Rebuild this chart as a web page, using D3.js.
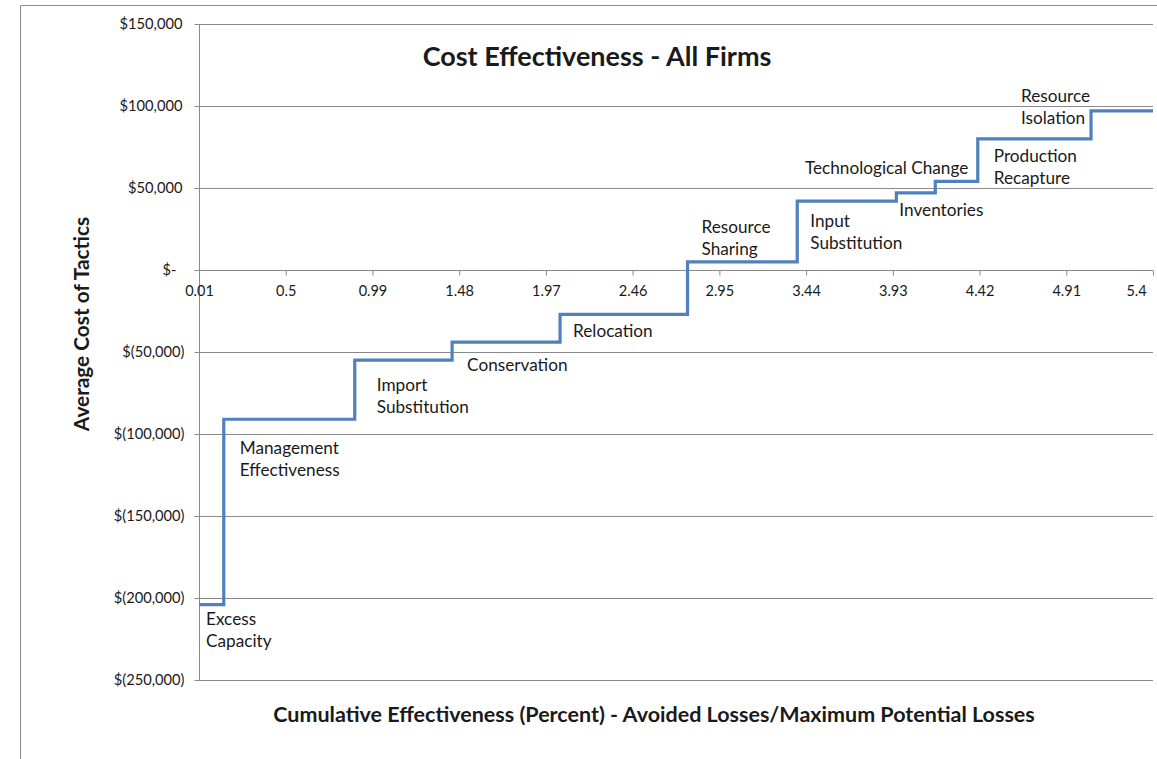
<!DOCTYPE html>
<html>
<head>
<meta charset="utf-8">
<script src="https://cdn.jsdelivr.net/npm/d3@7"></script>
<style>
  html, body { margin: 0; padding: 0; background: #fff; }
  svg { display: block; }
  text { font-family: Lato, "Open Sans", "Noto Sans", sans-serif; fill: #1a1a1a; }
</style>
</head>
<body>
<svg id="chart" width="1157" height="759"></svg>
<script>
// Tactics in order of increasing average cost
const tactics = [
  "Excess Capacity",
  "Management Effectiveness",
  "Import Substitution",
  "Conservation",
  "Relocation",
  "Resource Sharing",
  "Input Substitution",
  "Inventories",
  "Technological Change",
  "Production Recapture",
  "Resource Isolation"
];
// Cumulative effectiveness (%) at which each tactic's step begins
const stepStart = [0.01, 0.15, 0.89, 1.44, 2.05, 2.77, 3.39, 3.95, 4.17, 4.41, 5.05];
const effectivenessEnd = 5.4;
// Average cost of each tactic ($)
const avgCost = [-204000, -91000, -55000, -44000, -27000, 5000, 42000, 47000, 54000, 80000, 97000];

// Axis ticks
const xTicks = [0.01, 0.5, 0.99, 1.48, 1.97, 2.46, 2.95, 3.44, 3.93, 4.42, 4.91, 5.4];
const yTicks = [150000, 100000, 50000, 0, -50000, -100000, -150000, -200000, -250000];

// Label placement relative to the start of each step: [dx, dy, anchor]
const labelLayout = [
  [7, 20, "start"],
  [16, 35, "start"],
  [22, 31, "start"],
  [15, 29, "start"],
  [13, 23, "start"],
  [14, -29, "start"],
  [13, 26, "start"],
  [3, 23, "start"],
  [33, -7, "end"],
  [16, 23, "start"],
  [-70, -9, "start"]
];

const svg = d3.select("#chart");
const plot = { left: 199, right: 1153, top: 24, bottom: 680 };

const x = d3.scaleLinear().domain([0.01, effectivenessEnd]).range([plot.left, plot.right]);
const y = d3.scaleLinear().domain([-250000, 150000]).range([plot.bottom, plot.top]);

// Outer chart frame
svg.append("path")
  .attr("d", `M20.5,${759 + 5}V5.5H${1157 + 5}`)
  .attr("fill", "none").attr("stroke", "#8c8c8c").attr("stroke-width", 1);

// Horizontal gridlines
svg.append("g")
  .selectAll("line")
  .data(yTicks)
  .join("line")
  .attr("x1", plot.left).attr("x2", plot.right)
  .attr("y1", d => Math.round(y(d)) + 0.5).attr("y2", d => Math.round(y(d)) + 0.5)
  .attr("stroke", "#8a8a8a").attr("stroke-width", 1);

// Y axis
const fmtMoney = d => {
  if (d === 0) return "$-";
  const s = d3.format(",")(Math.abs(d));
  return d < 0 ? `$(${s})` : `$${s}`;
};
const yAxis = svg.append("g")
  .attr("transform", `translate(${plot.left + 0.5},0)`)
  .call(d3.axisLeft(y).tickValues(yTicks).tickSize(5).tickPadding(12).tickFormat(fmtMoney));
yAxis.select(".domain").attr("stroke", "#8a8a8a").attr("d", `M0,${plot.top}V${plot.bottom}`);
yAxis.selectAll(".tick line").attr("stroke", "#8a8a8a");
yAxis.selectAll(".tick text")
  .attr("font-size", 14.7).attr("fill", "#262626")
  .attr("dx", d => d < 0 ? 2 : (d === 0 ? -6 : 0))
  .attr("font-family", "Lato, 'Open Sans', sans-serif");

// X axis sits on the zero line
const xAxis = svg.append("g")
  .attr("transform", `translate(0,${Math.round(y(0)) + 0.5})`)
  .call(d3.axisBottom(x).tickValues(xTicks).tickSize(5).tickPadding(10).tickFormat(d => String(d)));
xAxis.select(".domain").attr("stroke", "#8a8a8a").attr("d", `M${plot.left},0H${plot.right}`);
xAxis.selectAll(".tick line").attr("stroke", "#8a8a8a");
xAxis.selectAll(".tick text")
  .attr("font-size", 14.5).attr("fill", "#262626")
  .attr("dx", d => d === effectivenessEnd ? -17 : 0)
  .attr("font-family", "Lato, 'Open Sans', sans-serif");

// Step line of cost vs cumulative effectiveness
const points = stepStart.map((s, i) => [s, avgCost[i]]);
points.push([effectivenessEnd, avgCost[avgCost.length - 1]]);
const line = d3.line()
  .x(d => x(d[0]))
  .y(d => y(d[1]))
  .curve(d3.curveStepAfter);
svg.append("path")
  .datum(points)
  .attr("d", line)
  .attr("fill", "none")
  .attr("stroke", "#4f81bd")
  .attr("stroke-width", 3.2)
  .attr("stroke-linejoin", "miter");

// Tactic labels, split over two lines where the name has two words
const labels = svg.append("g").attr("font-size", 17.2);
tactics.forEach((name, i) => {
  const [dx, dy, anchor] = labelLayout[i];
  const words = name === "Technological Change" ? [name] : name.split(" ");
  const t = labels.append("text")
    .attr("x", x(stepStart[i]) + dx)
    .attr("y", y(avgCost[i]) + dy)
    .attr("text-anchor", anchor);
  words.forEach((w, k) => {
    t.append("tspan")
      .attr("x", x(stepStart[i]) + dx)
      .attr("dy", k === 0 ? 0 : 22)
      .text(w);
  });
});

// Titles
svg.append("text")
  .attr("x", 597).attr("y", 66)
  .attr("text-anchor", "middle")
  .attr("font-size", 27).attr("font-weight", "bold")
  .text("Cost Effectiveness - All Firms");

svg.append("text")
  .attr("x", 654).attr("y", 722)
  .attr("text-anchor", "middle")
  .attr("font-size", 21.5).attr("font-weight", "bold")
  .text("Cumulative Effectiveness (Percent) - Avoided Losses/Maximum Potential Losses");

svg.append("text")
  .attr("transform", "translate(89,324) rotate(-90)")
  .attr("text-anchor", "middle")
  .attr("font-size", 20.8).attr("font-weight", "bold")
  .text("Average Cost of Tactics");
</script>
</body>
</html>
